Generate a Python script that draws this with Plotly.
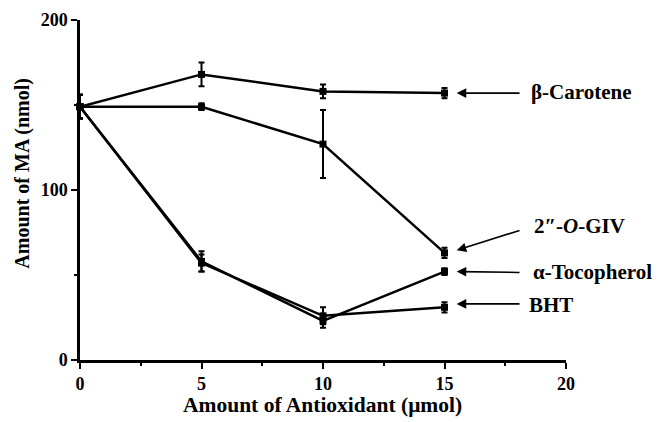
import plotly.graph_objects as go

# ---- data ----
antioxidant = [0, 5, 10, 15]
series_names = ["β-Carotene", "2″-<i>O</i>-GIV", "α-Tocopherol", "BHT"]
carotene = [149, 168, 158, 157]
carotene_err = [7, 7, 4, 3]
giv = [149, 149, 127, 63]
giv_err = [7, 2, 20, 3]
tocopherol = [149, 58, 23, 52]
tocopherol_err = [7, 6, 4, 2]
bht = [149, 57, 26, 31]
bht_err = [7, 5, 5, 3]
x_ticks = [0, 5, 10, 15, 20]
y_ticks = [0, 100, 200]
x_title = "Amount of Antioxidant (μmol)"
y_title = "Amount of MA (nmol)"

FONT = "Liberation Serif"
fig = go.Figure()
all_series = [(carotene, carotene_err), (giv, giv_err), (tocopherol, tocopherol_err), (bht, bht_err)]
for name, (vals, errs) in zip(series_names, all_series):
    fig.add_trace(go.Scatter(
        x=antioxidant, y=vals, name=name, mode="lines+markers",
        line=dict(color="black", width=2.5),
        marker=dict(color="black", size=7, symbol="square"),
        error_y=dict(type="data", array=errs, visible=True, color="black", thickness=2, width=3),
        cliponaxis=False, showlegend=False, hoverinfo="skip",
    ))

# labels with arrows
label_y = [157.5, 79, 52, 32.5]
arrow_tail_y = [157, 76.5, 51.5, 33]
arrow_head_y = [carotene[-1], giv[-1] + 1.5, tocopherol[-1], bht[-1] + 2]
label_x = [18.5, 18.65, 18.6, 18.45]
for name, ly, ty, hy, lx in zip(series_names, label_y, arrow_tail_y, arrow_head_y, label_x):
    fig.add_annotation(x=15.5, y=hy, ax=18.15, ay=ty, xref="x", yref="y", axref="x", ayref="y",
                       showarrow=True, arrowhead=2, arrowsize=1.2, arrowwidth=1.6, arrowcolor="black", text="")
    fig.add_annotation(x=lx, y=ly, xref="x", yref="y", text="<b>" + name + "</b>", showarrow=False,
                       xanchor="left", yanchor="middle", borderpad=0,
                       font=dict(family=FONT, size=21, color="black"))

# axis titles
fig.add_annotation(x=0.498, y=-0.132, xref="paper", yref="paper", text="<b>" + x_title + "</b>",
                   showarrow=False, xanchor="center", yanchor="middle",
                   font=dict(family=FONT, size=21.5, color="black"))
fig.add_annotation(x=-0.118, y=0.55, xref="paper", yref="paper", text="<b>" + y_title + "</b>",
                   showarrow=False, xanchor="center", yanchor="middle", textangle=-90,
                   font=dict(family=FONT, size=20, color="black"))

axis_common = dict(showgrid=False, zeroline=False, showline=True, linecolor="black", linewidth=2.5,
                   ticks="outside", tickcolor="black", tickwidth=2, ticklen=6, automargin=False,
                   tickfont=dict(family=FONT, size=18, color="black"))
fig.update_xaxes(range=[0, 20], tickvals=x_ticks, ticktext=["<b>%d</b>" % v for v in x_ticks],
                 minor=dict(dtick=2.5, ticks="outside", ticklen=3, tickcolor="black", tickwidth=1.5),
                 **axis_common)
fig.update_yaxes(range=[0, 200], tickvals=y_ticks, ticktext=["<b>%d</b>" % v for v in y_ticks],
                 minor=dict(dtick=50, ticks="outside", ticklen=3, tickcolor="black", tickwidth=1.5),
                 **axis_common)
fig.update_layout(width=659, height=422, margin=dict(l=80, r=93, t=20, b=62),
                  plot_bgcolor="white", paper_bgcolor="white", hovermode=False)
fig.write_html("out.html", config={"displayModeBar": False},
               post_script="document.body.style.margin='0';document.body.style.overflow='hidden';")
